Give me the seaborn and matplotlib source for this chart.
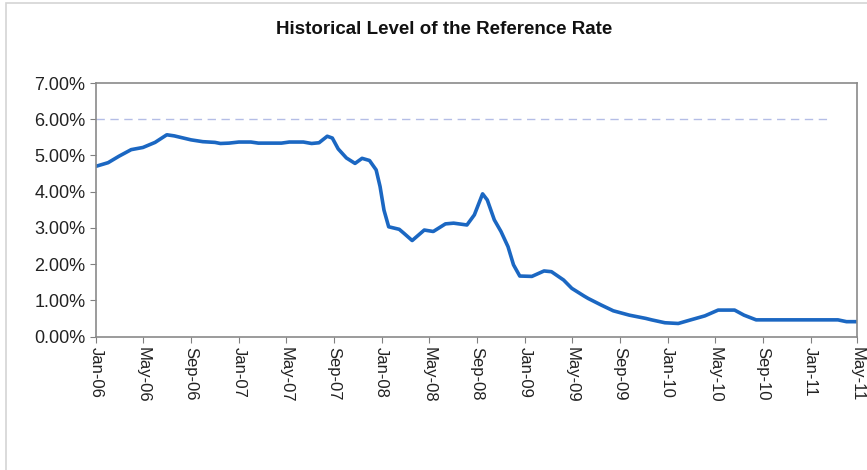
import matplotlib.pyplot as plt
import matplotlib.dates as mdates
import pandas as pd
import seaborn as sns
from matplotlib.patches import Rectangle
from matplotlib.ticker import FuncFormatter

# Valores (taxa em %)
datas = [
    "2006-01-01", "2006-02-01", "2006-03-01", "2006-04-01", "2006-05-01",
    "2006-06-01", "2006-07-01", "2006-07-20", "2006-09-01", "2006-10-01",
    "2006-11-01", "2006-11-15", "2006-12-07", "2007-01-01", "2007-02-01",
    "2007-02-20", "2007-04-20", "2007-05-10", "2007-06-15", "2007-07-06",
    "2007-07-25", "2007-08-15", "2007-08-28", "2007-09-12", "2007-10-03",
    "2007-10-25", "2007-11-12", "2007-12-01", "2007-12-18", "2007-12-28",
    "2008-01-07", "2008-01-19", "2008-02-15", "2008-02-27", "2008-03-19",
    "2008-04-19", "2008-05-12", "2008-06-12", "2008-07-03", "2008-08-06",
    "2008-08-25", "2008-09-15", "2008-09-27", "2008-10-15", "2008-11-01",
    "2008-11-19", "2008-12-03", "2008-12-19", "2009-01-19", "2009-02-19",
    "2009-03-10", "2009-04-10", "2009-05-01", "2009-06-01", "2009-06-12",
    "2009-07-15", "2009-08-15", "2009-09-25", "2009-11-06", "2009-11-21",
    "2009-12-25", "2010-01-28", "2010-03-01", "2010-04-06", "2010-05-10",
    "2010-06-21", "2010-07-15", "2010-08-15", "2011-03-12", "2011-04-03",
    "2011-05-01",
]
taxas = [
    4.70, 4.80, 4.98, 5.16, 5.22,
    5.36, 5.57, 5.54, 5.43, 5.38,
    5.36, 5.33, 5.34, 5.37, 5.37,
    5.34, 5.34, 5.37, 5.37, 5.33,
    5.35, 5.53, 5.48, 5.18, 4.93,
    4.78, 4.92, 4.86, 4.60, 4.14,
    3.49, 3.03, 2.96, 2.85, 2.65,
    2.94, 2.90, 3.11, 3.13, 3.08,
    3.36, 3.94, 3.77, 3.22, 2.90,
    2.48, 1.98, 1.67, 1.66, 1.81,
    1.79, 1.56, 1.33, 1.12, 1.05,
    0.87, 0.71, 0.59, 0.50, 0.46,
    0.38, 0.36, 0.46, 0.57, 0.73,
    0.73, 0.59, 0.46, 0.46, 0.41,
    0.41,
]

# Linha de referência de 6%
datas_teto = ["2006-01-01", "2011-02-20"]
valores_teto = [6.0, 6.0]

titulo = "Historical Level of the Reference Rate"

df = pd.DataFrame({"data": pd.to_datetime(datas), "taxa": taxas})
df_teto = pd.DataFrame({"data": pd.to_datetime(datas_teto), "taxa": valores_teto})

sns.set_style("white")
plt.rcParams["font.family"] = ["Liberation Sans", "DejaVu Sans"]

fig = plt.figure(figsize=(8.67, 4.70), dpi=100)
# Eixo ligeiramente recuado à direita para o rótulo "May-11" caber
ax = fig.add_axes([0.1107, 0.284, 0.8783, 0.5394])

# Moldura externa da área do gráfico
fig.patches.append(Rectangle((6 / 867, -0.1), 1.2, 1 - 3 / 470 + 0.1,
                             transform=fig.transFigure, fill=False,
                             edgecolor="#d4d4d4", linewidth=1.2))

sns.lineplot(data=df_teto, x="data", y="taxa", ax=ax, color="#b4bde6",
             linewidth=1.0, linestyle=(0, (6, 4)))
sns.lineplot(data=df, x="data", y="taxa", ax=ax, color="#1b67c2",
             linewidth=2.6, solid_joinstyle="round", solid_capstyle="round")

ax.set_xlim(pd.Timestamp("2006-01-01"), pd.Timestamp("2011-05-01"))
ax.set_ylim(0, 7)
ax.set_yticks(range(0, 8))
ax.yaxis.set_major_formatter(FuncFormatter(lambda v, _: f"{v:.2f}%"))

ax.xaxis.set_major_locator(mdates.MonthLocator(bymonth=[1, 5, 9]))
ax.xaxis.set_major_formatter(mdates.DateFormatter("%b-%y"))
plt.setp(ax.get_xticklabels(), rotation=270, ha="center", va="top")

ax.set_xlabel("")
ax.set_ylabel("")
ax.tick_params(axis="both", which="major", length=4, width=0.8,
               direction="out", colors="#808080", labelcolor="#222222")
ax.tick_params(axis="x", labelsize=12)
ax.tick_params(axis="y", labelsize=13)
ax.tick_params(left=True, bottom=True)

for spine in ax.spines.values():
    spine.set_color("#8a8a8a")
    spine.set_linewidth(1.2)

fig.text(0.512, 1 - 30 / 470, titulo, ha="center", va="center",
         fontsize=13.5, fontweight="bold", color="#111111")

fig.savefig("out.png", dpi=100, facecolor="white")
plt.close(fig)
